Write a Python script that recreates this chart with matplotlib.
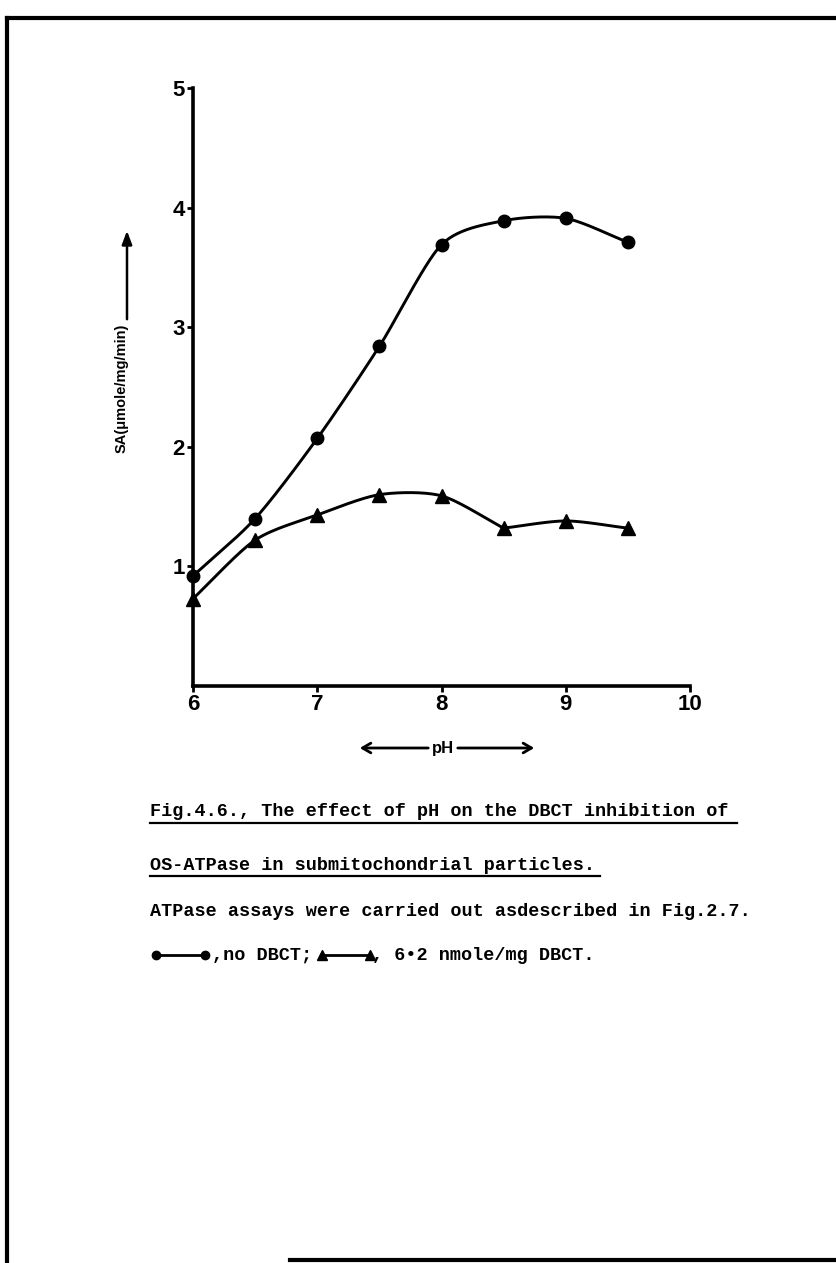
import numpy as np
import matplotlib
matplotlib.use("Agg")
import matplotlib.pyplot as plt

# ---- data ----
ph = [6.0, 6.5, 7.0, 7.5, 8.0, 8.5, 9.0, 9.5]
sa_no_dbct = [0.92, 1.40, 2.07, 2.84, 3.69, 3.89, 3.91, 3.71]
sa_dbct = [0.73, 1.22, 1.43, 1.60, 1.59, 1.32, 1.38, 1.32]
x_ticks = [6, 7, 8, 9, 10]
y_ticks = [1, 2, 3, 4, 5]

W, H = 837, 1263
fig = plt.figure(figsize=(W / 100, H / 100), dpi=100)
fig.patch.set_facecolor("white")
plt.rcParams["font.family"] = ["Liberation Sans", "DejaVu Sans"]


def px(x, y):
    return x / W, 1 - y / H


def cardinal(xs, ys, tension=0.2, n=30):
    P = np.column_stack([np.asarray(xs, float), np.asarray(ys, float)])
    P = np.vstack([2 * P[0] - P[1], P, 2 * P[-1] - P[-2]])
    s = (1 - tension) / 2
    out = []
    for i in range(1, len(P) - 2):
        p0, p1, p2, p3 = P[i - 1], P[i], P[i + 1], P[i + 2]
        m1 = s * (p2 - p0)
        m2 = s * (p3 - p1)
        t = np.linspace(0, 1, n)[:, None]
        h00 = 2 * t**3 - 3 * t**2 + 1
        h10 = t**3 - 2 * t**2 + t
        h01 = -2 * t**3 + 3 * t**2
        h11 = t**3 - t**2
        out.append(h00 * p1 + h10 * m1 + h01 * p2 + h11 * m2)
    c = np.vstack(out)
    return c[:, 0], c[:, 1]


l, b = px(193, 686)
r, t = px(690, 88)
ax = fig.add_axes([l, b, r - l, t - b])
ax.set_xlim(6, 10)
ax.set_ylim(0, 5)
for s in ["top", "right"]:
    ax.spines[s].set_visible(False)
for s in ["left", "bottom"]:
    ax.spines[s].set_linewidth(2.6)
    ax.spines[s].set_color("black")
ax.set_xticks(x_ticks)
ax.set_yticks(y_ticks)
ax.tick_params(axis="both", length=4, width=2, direction="out", pad=2, labelsize=16)
for lab in ax.get_xticklabels() + ax.get_yticklabels():
    lab.set_fontweight("bold")

# no DBCT curve (smooth)
cx, cy = cardinal(ph, sa_no_dbct)
ax.plot(cx, cy, color="black", lw=2.1, clip_on=False)
ax.plot(ph, sa_no_dbct, "o", color="black", ms=9, clip_on=False)

# DBCT curve: kink at pH 8.5
k = 5
cx1, cy1 = cardinal(ph[:k + 1], sa_dbct[:k + 1])
cx2, cy2 = cardinal(ph[k:], sa_dbct[k:])
ax.plot(cx1, cy1, color="black", lw=2.1, clip_on=False)
ax.plot(cx2, cy2, color="black", lw=2.1, clip_on=False)
ax.plot(ph, sa_dbct, "^", color="black", ms=10, clip_on=False)

# overlay axes in pixel coordinates
ax_ann = fig.add_axes([0, 0, 1, 1], facecolor="none")
ax_ann.set_xlim(0, W)
ax_ann.set_ylim(H, 0)
ax_ann.axis("off")

# y label with arrow
ax_ann.text(122, 388, "SA(\u03bcmole/mg/min)", rotation=90, ha="center", va="center",
            fontsize=10.5, fontweight="bold")
ax_ann.annotate("", xy=(127, 228), xytext=(127, 322),
                arrowprops=dict(arrowstyle="-|>,head_length=0.8,head_width=0.3", lw=1.8, color="black"))

# x label with arrows
ax_ann.text(443, 748, "pH", ha="center", va="center", fontsize=12, fontweight="bold")
ax_ann.annotate("", xy=(357, 748), xytext=(431, 748),
                arrowprops=dict(arrowstyle="->,head_length=0.6,head_width=0.35", lw=2.0, color="black"))
ax_ann.annotate("", xy=(537, 748), xytext=(455, 748),
                arrowprops=dict(arrowstyle="->,head_length=0.6,head_width=0.35", lw=2.0, color="black"))

# page border
ax_ann.plot([7, 7], [18, 1263], color="black", lw=3)
ax_ann.plot([7, 837], [18, 18], color="black", lw=3)
ax_ann.plot([290, 837], [1260, 1260], color="black", lw=3)

# caption
mono = dict(family="Liberation Mono", fontweight="bold", fontsize=13.3, va="center", ha="left")
x0 = 150
ax_ann.text(x0, 812, "Fig.4.6., The effect of pH on the DBCT inhibition of", **mono)
ax_ann.plot([x0, 737], [823, 823], color="black", lw=1.6)
ax_ann.text(x0, 865, "OS-ATPase in submitochondrial particles.", **mono)
ax_ann.plot([x0, 600], [876, 876], color="black", lw=1.6)
ax_ann.text(x0, 912, "ATPase assays were carried out asdescribed in Fig.2.7.", **mono)

ax_ann.plot([156, 205], [955, 955], color="black", lw=2)
ax_ann.plot([156, 205], [955, 955], "o", color="black", ms=6)
ax_ann.text(212, 955, ",no DBCT;", **mono)
ax_ann.plot([322, 370], [955, 955], color="black", lw=2)
ax_ann.plot([322, 370], [955, 955], "^", color="black", ms=7)
ax_ann.text(372, 955, ", 6\u20222 nmole/mg DBCT.", **mono)

fig.savefig("out.png", dpi=100, facecolor="white")
